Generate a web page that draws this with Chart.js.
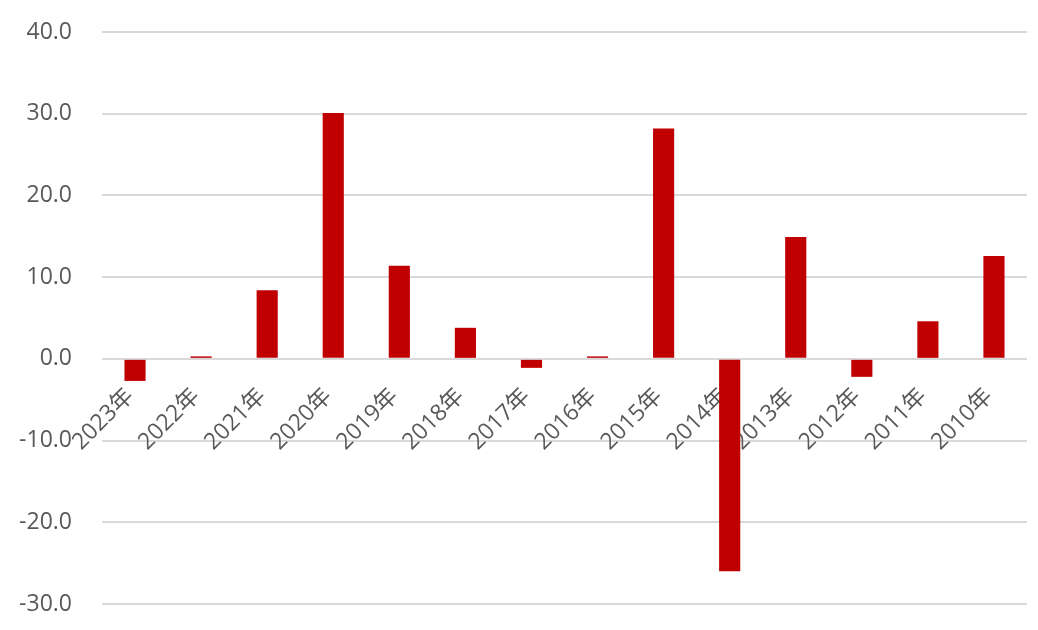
<!DOCTYPE html>
<html>
<head>
<meta charset="utf-8">
<script src="https://cdn.jsdelivr.net/npm/chart.js@4/dist/chart.umd.min.js"></script>
<style>
html,body{margin:0;padding:0;background:#fff;}
#wrap{width:1038px;height:630px;position:relative;}
</style>
</head>
<body>
<div id="wrap"><canvas id="c" width="1038" height="630"></canvas></div>
<script>
const categories = ["2023年","2022年","2021年","2020年","2019年","2018年","2017年","2016年","2015年","2014年","2013年","2012年","2011年","2010年"];
const values = [-2.7, 0.3, 8.4, 30.1, 11.4, 3.8, -1.1, 0.3, 28.2, -26.0, 14.9, -2.2, 4.6, 12.6];
const yMin = -30, yMax = 40, yStep = 10;

const FONT = "'Open Sans','Noto Sans CJK SC',sans-serif";
const TEXT = '#595959';

new Chart(document.getElementById('c'), {
  type: 'bar',
  data: {
    labels: categories,
    datasets: [{
      data: values,
      backgroundColor: '#C00000',
      borderWidth: 0,
      barPercentage: 0.32,
      categoryPercentage: 1.0
    }]
  },
  options: {
    responsive: false,
    animation: false,
    layout: { padding: { top: 32, bottom: 26, right: 11, left: 0 } },
    plugins: { legend: { display: false }, tooltip: { enabled: false } },
    scales: {
      x: {
        position: { y: 0 },
        grid: { display: false, drawTicks: false },
        border: { display: false },
        ticks: {
          color: TEXT,
          font: { family: FONT, size: 23 },
          minRotation: 45,
          maxRotation: 45,
          padding: 24,
          labelOffset: -5,
          autoSkip: false
        },
        afterFit: s => { s.height = 0; s.paddingTop = 0; s.paddingBottom = 0; }
      },
      y: {
        min: yMin, max: yMax,
        grid: { color: '#D9D9D9', lineWidth: 2, drawTicks: false },
        border: { display: false },
        ticks: {
          stepSize: yStep,
          color: TEXT,
          font: { family: FONT, size: 23 },
          padding: 30,
          callback: v => Number(v).toFixed(1)
        },
        afterFit: s => { s.width = 102; s.paddingTop = 0; s.paddingBottom = 0; }
      }
    }
  }
});
</script>
</body>
</html>
